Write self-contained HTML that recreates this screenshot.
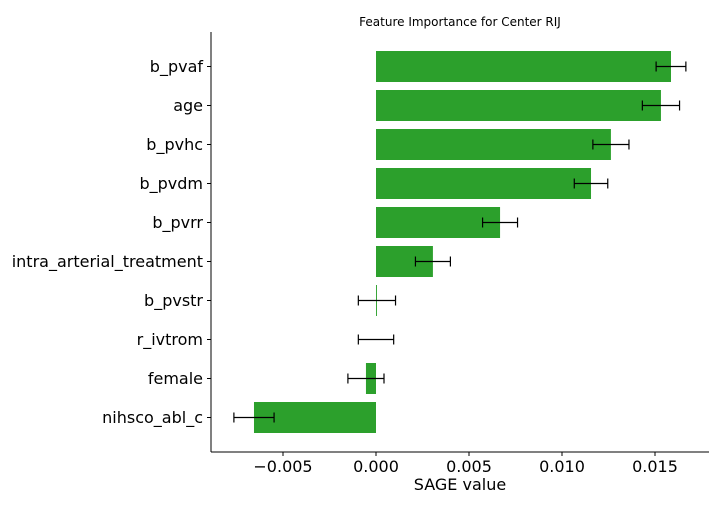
<!DOCTYPE html>
<html><head><meta charset="utf-8"><style>
body{margin:0;background:#fff;width:720px;height:504px;overflow:hidden}
svg{font-family:"DejaVu Sans","Liberation Sans",sans-serif}
</style></head><body>
<svg id="chart" width="720" height="504">
<text x="460" y="26" font-size="12" text-anchor="middle">Feature Importance for Center RIJ</text>
<g id="bars"></g>
<line x1="211" y1="32" x2="211" y2="452" stroke="#000" stroke-width="1"/>
<line x1="211" y1="452" x2="709" y2="452" stroke="#000" stroke-width="1"/>
<g id="xticks"></g>
<text x="460" y="490" font-size="16" text-anchor="middle">SAGE value</text>
</svg>
<script>
const features=["b_pvaf","age","b_pvhc","b_pvdm","b_pvrr","intra_arterial_treatment","b_pvstr","r_ivtrom","female","nihsco_abl_c"];
const values=[0.01586,0.01532,0.01263,0.01156,0.00667,0.00306,0.00005,0.0,-0.00054,-0.00656];
const errors=[0.0008,0.001,0.00097,0.0009,0.00094,0.00094,0.001,0.00095,0.00097,0.00108];
const xTicks=[-0.005,0,0.005,0.01,0.015];
const xTickLabels=["−0.005","0.000","0.005","0.010","0.015"];
const NS="http://www.w3.org/2000/svg";
function xs(v){return 376+v*18600;}
function ys(i){return 66.5+i*39;}
const bh=31;
const bars=document.getElementById('bars');
function mk(tag,attrs,parent){const e=document.createElementNS(NS,tag);for(const k in attrs)e.setAttribute(k,attrs[k]);parent.appendChild(e);return e;}
features.forEach((f,i)=>{
  const y=ys(i),x0=xs(0),x1=xs(values[i]);
  const r=mk('rect',{x:Math.min(x0,x1),y:y-bh/2,width:Math.abs(x1-x0),height:bh,fill:'#2ca02c'},bars);
  
  
  const el=xs(values[i]-errors[i]),er=xs(values[i]+errors[i]);
  const g=mk('g',{stroke:'#000','stroke-width':1.2},bars);
  
  
  mk('line',{x1:el,y1:y,x2:er,y2:y},g);
  mk('line',{x1:el,y1:y-5,x2:el,y2:y+5},g);
  mk('line',{x1:er,y1:y-5,x2:er,y2:y+5},g);
  mk('line',{x1:207,y1:y,x2:211,y2:y,stroke:'#000'},bars);
  const t=mk('text',{x:203,y:y+5.5,'font-size':16,'text-anchor':'end'},bars);
  t.textContent=f;
  
  
});
const xt=document.getElementById('xticks');
xTicks.forEach((v,i)=>{
  const x=xs(v);
  mk('line',{x1:x,y1:452,x2:x,y2:456,stroke:'#000'},xt);
  const t=mk('text',{x:x,y:472,'font-size':16,'text-anchor':'middle'},xt);
  t.textContent=xTickLabels[i];
  
  
});
</script>
</body></html>
